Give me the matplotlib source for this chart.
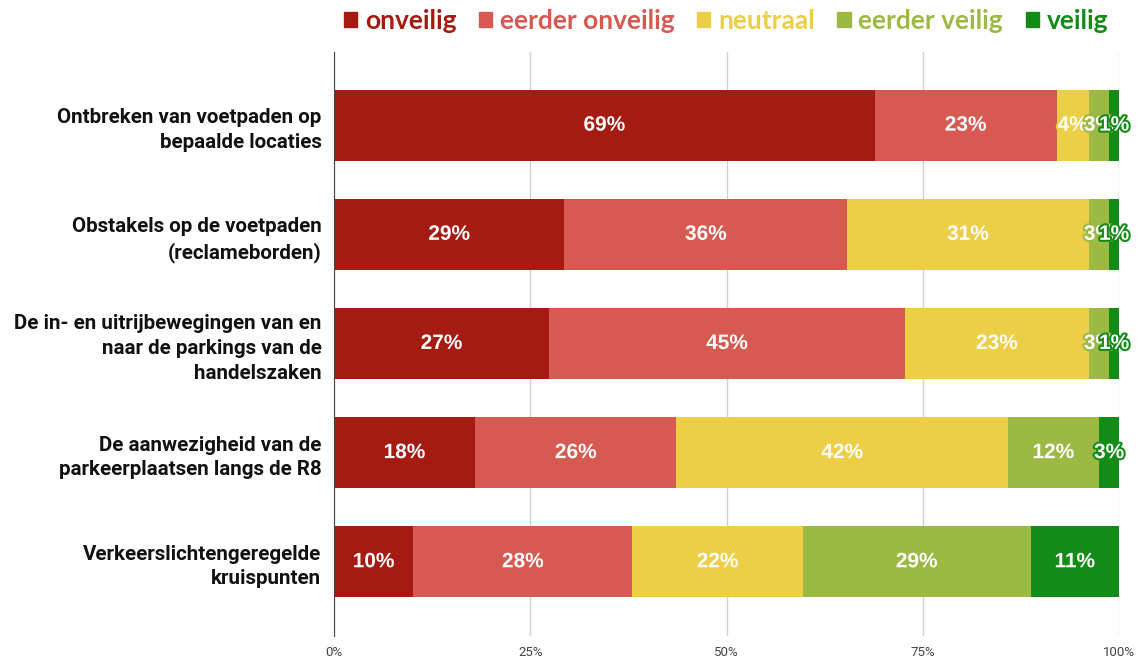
import numpy as np
import matplotlib
matplotlib.use("Agg")
import matplotlib.pyplot as plt
import matplotlib.patheffects as pe
from matplotlib.patches import Patch

# data
categories = [
    "Ontbreken van voetpaden op\nbepaalde locaties",
    "Obstakels op de voetpaden\n(reclameborden)",
    "De in- en uitrijbewegingen van en\nnaar de parkings van de\nhandelszaken",
    "De aanwezigheid van de\nparkeerplaatsen langs de R8",
    "Verkeerslichtengeregelde\nkruispunten",
]
series = ["onveilig", "eerder onveilig", "neutraal", "eerder veilig", "veilig"]
onveilig = [69.0, 29.4, 27.4, 18.0, 10.1]
eerder_onveilig = [23.2, 36.1, 45.4, 25.7, 27.9]
neutraal = [4.1, 30.8, 23.4, 42.3, 21.7]
eerder_veilig = [2.6, 2.6, 2.6, 11.6, 29.0]
veilig = [1.3, 1.3, 1.3, 2.6, 11.3]
colors = ["#a51b12", "#d65a52", "#ecce47", "#9cb944", "#128c17"]

data = np.array([onveilig, eerder_onveilig, neutraal, eerder_veilig, veilig])
data = data / data.sum(axis=0) * 100

fig = plt.figure(figsize=(11.38, 6.59), dpi=100)
ax = fig.add_axes([334 / 1138, 1 - 636 / 659, 785.3 / 1138, 584 / 659])

y = np.arange(len(categories))
left = np.zeros(len(categories))
for i, name in enumerate(series):
    vals = data[i]
    ax.barh(y, vals, left=left, height=0.65, color=colors[i], zorder=2)
    for j, v in enumerate(vals):
        ax.text(left[j] + v / 2, y[j], f"{round(v)}%", ha="center", va="center",
                color="white", fontsize=15, fontweight="bold",
                family="Liberation Sans", zorder=3,
                path_effects=[pe.Stroke(linewidth=3, foreground=colors[i]), pe.Normal()])
    left += vals

ax.set_xlim(0, 100)
ax.set_ylim(4.68, -0.67)
ax.set_xticks([0, 25, 50, 75, 100])
ax.set_xticklabels(["0%", "25%", "50%", "75%", "100%"], family="Roboto",
                   fontsize=9.5, color="#444444")
ax.tick_params(axis="x", length=0, pad=7)
ax.set_yticks(y)
ax.set_yticklabels(categories, family="Roboto", fontweight="bold", fontsize=14.8,
                   color="#111111", linespacing=1.38)
ax.tick_params(axis="y", length=0, pad=9)
ax.grid(axis="x", color="#d0d0d0", linewidth=1, zorder=0)
for s in ["top", "right", "bottom"]:
    ax.spines[s].set_visible(False)
ax.spines["left"].set_color("#444444")
ax.spines["left"].set_zorder(4)

handles = [Patch(color=c) for c in colors]
leg = fig.legend(handles, series, loc="center", bbox_to_anchor=(726 / 1138, 1 - 21 / 659),
                 ncol=5, frameon=False, handlelength=0.5, handleheight=0.5,
                 handletextpad=0.3, columnspacing=0.85, borderpad=0,
                 prop={"family": "Lato", "weight": "bold", "size": 19})
for t, c in zip(leg.get_texts(), colors):
    t.set_color(c)

fig.savefig("out.png", dpi=100)
